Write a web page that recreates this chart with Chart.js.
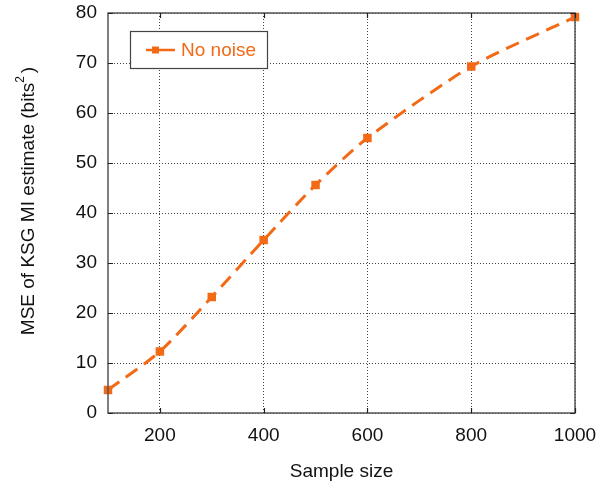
<!DOCTYPE html>
<html>
<head>
<meta charset="utf-8">
<script src="https://cdn.jsdelivr.net/npm/chart.js@4/dist/chart.umd.min.js"></script>
<style>
  html, body { margin: 0; padding: 0; background: #fff; }
  #wrap { width: 598px; height: 486px; }
</style>
</head>
<body>
<div id="wrap"><canvas id="c" width="598" height="486"></canvas></div>
<script>
// Sample sizes and the mean squared error of the KSG estimate
const sampleSizes = [100, 200, 300, 400, 500, 600, 800, 1000];
const mseNoNoise = [4.6, 12.3, 23.2, 34.6, 45.6, 55.0, 69.3, 79.2];
const xTickValues = [200, 400, 600, 800, 1000];
const seriesName = 'No noise';
const xTitle = 'Sample size';
const yTitleMain = 'MSE of KSG MI estimate (bits';
const yTitleSup = '2';
const yTitleEnd = ')';

const ORANGE = '#f26a16';
const FONT = '"Liberation Sans", Arial, sans-serif';

// Frame around the plot area with short inward tick marks on all four sides
const framePlugin = {
  id: 'frame',
  afterDatasetsDraw(chart) {
    const { ctx, chartArea: a, scales } = chart;
    ctx.save();
    ctx.strokeStyle = '#555';
    ctx.lineWidth = 1.5;
    ctx.strokeRect(a.left, a.top, a.right - a.left, a.bottom - a.top);
    ctx.lineWidth = 1.2;
    ctx.strokeStyle = '#222';
    const len = 5;
    scales.x.ticks.forEach(t => {
      const px = Math.round(scales.x.getPixelForValue(t.value)) + 0.5;
      ctx.beginPath();
      ctx.moveTo(px, a.bottom); ctx.lineTo(px, a.bottom - len);
      ctx.moveTo(px, a.top); ctx.lineTo(px, a.top + len);
      ctx.stroke();
    });
    scales.y.ticks.forEach(t => {
      const py = Math.round(scales.y.getPixelForValue(t.value)) + 0.5;
      ctx.beginPath();
      ctx.moveTo(a.left, py); ctx.lineTo(a.left + len, py);
      ctx.moveTo(a.right, py); ctx.lineTo(a.right - len, py);
      ctx.stroke();
    });
    ctx.restore();
  }
};

// Rotated y-axis title with a superscript unit exponent
const yTitlePlugin = {
  id: 'yTitle',
  afterDraw(chart) {
    const { ctx } = chart;
    ctx.save();
    ctx.translate(34, 201);
    ctx.rotate(-Math.PI / 2);
    ctx.fillStyle = '#111';
    ctx.textBaseline = 'alphabetic';
    ctx.font = '19px ' + FONT;
    const wMain = ctx.measureText(yTitleMain).width;
    ctx.font = '12px ' + FONT;
    const wSup = ctx.measureText(yTitleSup).width;
    ctx.font = '19px ' + FONT;
    const wEnd = ctx.measureText(yTitleEnd).width;
    const total = wMain + wSup + 3 + wEnd;
    let x = -total / 2;
    ctx.fillText(yTitleMain, x, 0);
    x += wMain;
    ctx.font = '12px ' + FONT;
    ctx.fillText(yTitleSup, x, -10);
    x += wSup + 3;
    ctx.font = '19px ' + FONT;
    ctx.fillText(yTitleEnd, x, 0);
    ctx.restore();
  }
};

// Boxed legend in the upper-left corner of the plot
const boxLegendPlugin = {
  id: 'boxLegend',
  afterDraw(chart) {
    const { ctx, chartArea: a } = chart;
    const x0 = a.left + 22, y0 = a.top + 18, w = 137, h = 37;
    ctx.save();
    ctx.fillStyle = '#fff';
    ctx.fillRect(x0, y0, w, h);
    ctx.strokeStyle = '#444';
    ctx.lineWidth = 1.2;
    ctx.strokeRect(x0 + 0.5, y0 + 0.5, w, h);
    const cy = y0 + h / 2 + 0.5;
    ctx.strokeStyle = ORANGE;
    ctx.lineWidth = 2.5;
    ctx.beginPath();
    ctx.moveTo(x0 + 16, cy); ctx.lineTo(x0 + 22, cy);
    ctx.moveTo(x0 + 29, cy); ctx.lineTo(x0 + 45, cy);
    ctx.stroke();
    ctx.fillStyle = ORANGE;
    ctx.fillRect(x0 + 22, cy - 3.5, 7, 7);
    ctx.font = '19px ' + FONT;
    ctx.textBaseline = 'middle';
    ctx.fillText(seriesName, x0 + 51, cy + 1);
    ctx.restore();
  }
};

new Chart(document.getElementById('c'), {
  type: 'line',
  data: {
    datasets: [{
      label: seriesName,
      data: sampleSizes.map((s, i) => ({ x: s, y: mseNoNoise[i] })),
      borderColor: ORANGE,
      backgroundColor: ORANGE,
      borderWidth: 3,
      borderDash: [14, 8],
      tension: 0.25,
      pointStyle: 'rect',
      pointRadius: 6,
      pointBorderWidth: 0,
      pointBackgroundColor: ORANGE,
      clip: false
    }]
  },
  options: {
    responsive: false,
    animation: false,
    layout: { padding: { left: 0, right: 23, top: 13, bottom: 0 } },
    plugins: {
      legend: { display: false },
      tooltip: { enabled: false }
    },
    scales: {
      x: {
        type: 'linear',
        min: 100,
        max: 1000,
        afterBuildTicks(scale) {
          scale.ticks = xTickValues.map(v => ({ value: v }));
        },
        afterFit(scale) {
          scale.height = 73;
          scale.paddingLeft = 0;
          scale.paddingRight = 0;
        },
        grid: {
          color: '#444',
          lineWidth: 1,
          drawTicks: false
        },
        border: { display: false, dash: [1, 2] },
        ticks: {
          padding: 11,
          color: '#111',
          font: { family: FONT, size: 19 },
          maxRotation: 0,
          callback: v => String(v)
        },
        title: {
          display: true,
          text: xTitle,
          color: '#111',
          font: { family: FONT, size: 19 },
          padding: { top: 0, bottom: 3 }
        }
      },
      y: {
        min: 0,
        max: 80,
        afterFit(scale) {
          scale.width = 108;
          scale.paddingTop = 0;
          scale.paddingBottom = 0;
        },
        ticks: {
          stepSize: 10,
          padding: 11,
          color: '#111',
          font: { family: FONT, size: 19 }
        },
        grid: {
          color: '#444',
          lineWidth: 1,
          drawTicks: false
        },
        border: { display: false, dash: [1, 2] },
        title: { display: false }
      }
    }
  },
  plugins: [framePlugin, boxLegendPlugin, yTitlePlugin]
});
</script>
</body>
</html>
